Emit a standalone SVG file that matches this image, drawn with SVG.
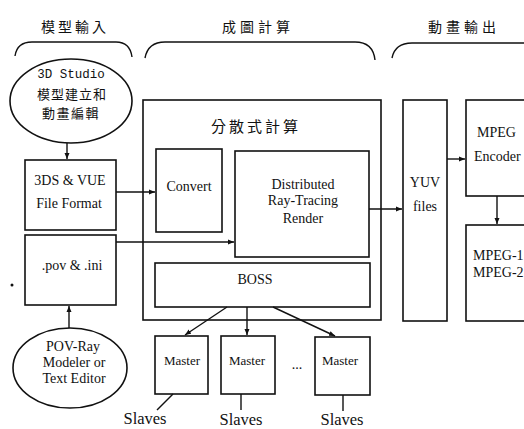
<svg xmlns="http://www.w3.org/2000/svg" width="524" height="429" viewBox="0 0 524 429">
<defs>
<marker id="ah" markerWidth="7" markerHeight="6" refX="6" refY="3" orient="auto" markerUnits="userSpaceOnUse">
<path d="M0,0.5 L6,3 L0,5.5 Z" fill="#111"/>
</marker>
<style>
.box{fill:#fff;stroke:#111;stroke-width:1.6}
.ln{fill:none;stroke:#111;stroke-width:1.4}
.ar{fill:none;stroke:#111;stroke-width:1.4;marker-end:url(#ah)}
.t{font-family:"Liberation Serif","Times New Roman",serif;font-size:14px;fill:#111;text-anchor:middle}
.tl{font-family:"Liberation Serif","Times New Roman",serif;font-size:14px;fill:#111}
.ms{font-size:13px}
.sl{font-size:16.5px}
.cj{font-family:"Noto Sans CJK TC","Noto Sans CJK SC",sans-serif;fill:#111;text-anchor:middle}
.mono{font-family:"Liberation Mono","Courier New",monospace;font-size:12.5px;fill:#111;text-anchor:middle}
</style>
</defs>
<rect width="524" height="429" fill="#fff"/>

<g id="titles">
<text class="cj" x="75" y="32" font-size="14" letter-spacing="3">模型輸入</text>
<text class="cj" x="258" y="32" font-size="14" letter-spacing="4">成圖計算</text>
<text class="cj" x="464" y="32" font-size="14" letter-spacing="4">動畫輸出</text>
</g>

<g id="braces">
<path class="ln" d="M15,56 Q17,42 32,42 L116,42 Q130,42 132,57" stroke-width="1.6"/>
<path class="ln" d="M145,58 Q148,42 165,42 L355,42 Q373,42 375,60" stroke-width="1.6"/>
<path class="ln" d="M392,58 Q395,43 412,43 L530,43" stroke-width="1.6"/>
</g>

<g id="studio">
<ellipse cx="71" cy="101" rx="61" ry="42" fill="#fff" stroke="#111" stroke-width="1.6"/>
<text class="mono" x="71" y="78">3D Studio</text>
<text class="cj" x="72" y="99" font-size="13" letter-spacing="1">模型建立和</text>
<text class="cj" x="71" y="118" font-size="13" letter-spacing="1.5">動畫編輯</text>
</g>

<g id="fmt3ds">
<rect class="box" x="25" y="160" width="91" height="70"/>
<text class="t" x="70" y="185">3DS &amp; VUE</text>
<text class="t" x="69" y="208">File Format</text>
</g>

<g id="pov">
<rect class="box" x="25" y="235" width="91" height="70"/>
<text class="t" x="72" y="270">.pov &amp; .ini</text>
</g>

<g id="povray">
<ellipse cx="70" cy="368" rx="57" ry="40" fill="#fff" stroke="#111" stroke-width="1.6"/>
<text class="t" x="73" y="351">POV-Ray</text>
<text class="t" x="74" y="367">Modeler or</text>
<text class="t" x="74" y="383">Text Editor</text>
</g>

<circle cx="12" cy="285" r="1.5" fill="#111"/>

<g id="distributed">
<rect class="box" x="143" y="100" width="238" height="220"/>
<text class="cj" x="256" y="132" font-size="15" letter-spacing="3">分散式計算</text>
</g>

<g id="convert">
<rect class="box" x="156" y="149" width="66" height="83"/>
<text class="t" x="189" y="191">Convert</text>
</g>

<g id="render">
<rect class="box" x="235" y="151" width="134" height="106"/>
<text class="t" x="303" y="189">Distributed</text>
<text class="t" x="303" y="205">Ray-Tracing</text>
<text class="t" x="303" y="223">Render</text>
</g>

<g id="boss">
<rect class="box" x="155" y="263" width="215" height="44"/>
<text class="t" x="255" y="284">BOSS</text>
</g>

<g id="master1">
<rect class="box" x="155" y="336" width="53" height="58"/>
<text class="t ms" x="182" y="365">Master</text>
</g>
<g id="master2">
<rect class="box" x="221" y="336" width="54" height="58"/>
<text class="t ms" x="247" y="365">Master</text>
</g>
<g id="master3">
<rect class="box" x="315" y="337" width="55" height="58"/>
<text class="t ms" x="340" y="365">Master</text>
</g>
<text class="t" x="297" y="369">...</text>

<g id="slaves">
<text class="t sl" x="145" y="424">Slaves</text>
<text class="t sl" x="241" y="425">Slaves</text>
<text class="t sl" x="342" y="425">Slaves</text>
</g>

<g id="yuv">
<rect class="box" x="403" y="100" width="44" height="221"/>
<text class="t" x="425" y="187">YUV</text>
<text class="t" x="425" y="211">files</text>
</g>

<g id="encoder">
<rect class="box" x="466" y="100" width="70" height="96"/>
<text class="tl" x="477" y="137">MPEG</text>
<text class="tl" x="474" y="161">Encoder</text>
</g>

<g id="mpeg">
<rect class="box" x="466" y="225" width="70" height="96"/>
<text class="tl" x="473" y="260">MPEG-1</text>
<text class="tl" x="473" y="277">MPEG-2</text>
</g>

<g id="connectors">
<line class="ar" x1="67" y1="143" x2="67" y2="159"/>
<line class="ar" x1="69" y1="328" x2="69" y2="306"/>
<line class="ar" x1="116" y1="192" x2="155" y2="192"/>
<line class="ar" x1="116" y1="242" x2="234" y2="242"/>
<line class="ar" x1="369" y1="209" x2="402" y2="209"/>
<line class="ar" x1="447" y1="159" x2="465" y2="159"/>
<line class="ar" x1="497" y1="196" x2="497" y2="224"/>
<line class="ar" x1="227" y1="307" x2="185" y2="335"/>
<line class="ar" x1="247" y1="307" x2="247" y2="335"/>
<line class="ar" x1="273" y1="307" x2="335" y2="336"/>
<line class="ln" x1="173" y1="394" x2="157" y2="410"/>
<line class="ln" x1="241" y1="394" x2="241" y2="410"/>
<line class="ln" x1="343" y1="395" x2="343" y2="411"/>
</g>
</svg>
